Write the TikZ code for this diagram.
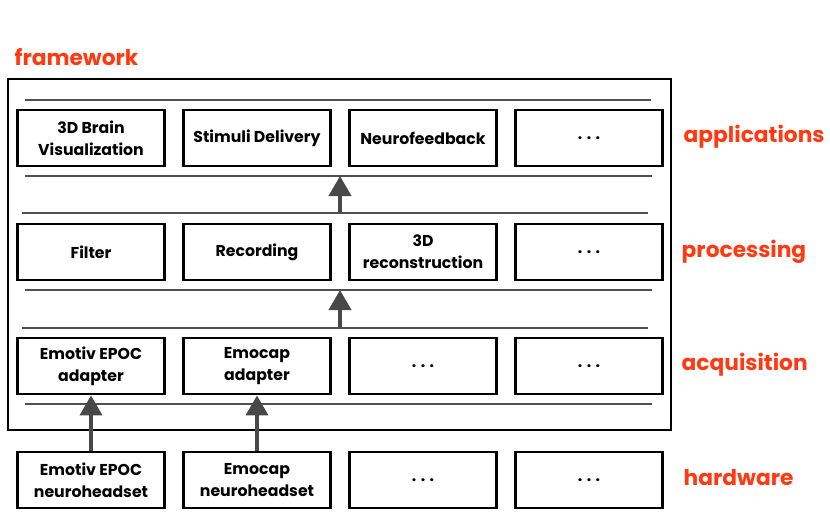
\documentclass[tikz,border=0pt]{standalone}
\usepackage{fontspec}
\setmainfont{Poppins}
\usepackage{tikz}
\usetikzlibrary{arrows.meta}
\definecolor{layerred}{HTML}{FF3A12}
\definecolor{bargray}{HTML}{505050}
\definecolor{arrowgray}{HTML}{484848}

\begin{document}
\begin{tikzpicture}[x=0.75pt, y=-0.75pt, node distance={124.5pt},
        box/.style = {draw, line width=2.2pt, minimum width=110pt, minimum height=42pt,
                      align=center, font=\fontsize{11.8}{16.5}\selectfont\bfseries, inner sep=1pt},
        layer/.style = {text=layerred, font=\fontsize{16.3}{18}\selectfont\bfseries, anchor=west},
        bar/.style = {draw=bargray, line width=2.2pt},
        up/.style = {draw=arrowgray, line width=3pt, -{Triangle[width=16.5pt, length=15pt]}}]
            \useasboundingbox (0,0) rectangle (830,519);

            \node[layer] (fw) at (10,57) {framework};
            \draw[line width=1pt] (8,79) rectangle (671,430);

            % applications
            \node[box] (app1) at (91,138) {3D Brain\\Visualization};
            \node[box] (app2) [right of=app1] {Stimuli Delivery};
            \node[box] (app3) [right of=app2] {Neurofeedback};
            \node[box] (app4) [right of=app3] {. . .};

            % processing
            \node[box] (proc1) at (91,252) {Filter};
            \node[box] (proc2) [right of=proc1] {Recording};
            \node[box] (proc3) [right of=proc2] {3D\\reconstruction};
            \node[box] (proc4) [right of=proc3] {. . .};

            % acquisition
            \node[box] (acq1) at (91,366) {Emotiv EPOC\\adapter};
            \node[box] (acq2) [right of=acq1] {Emocap\\adapter};
            \node[box] (acq3) [right of=acq2] {. . .};
            \node[box] (acq4) [right of=acq3] {. . .};

            % hardware
            \node[box] (hw1) at (91,480) {Emotiv EPOC\\neuroheadset};
            \node[box] (hw2) [right of=hw1] {Emocap\\neuroheadset};
            \node[box] (hw3) [right of=hw2] {. . .};
            \node[box] (hw4) [right of=hw3] {. . .};

            \node[layer] (lapp) at (679,137) {applications};
            \node[layer] (lproc) at (677,252) {processing};
            \node[layer] (lacq) at (677,365) {acquisition};
            \node[layer] (lhw) at (679,478) {hardware};

            % layer bars
            \draw[bar] (25,100) -- (651,100);
            \draw[bar] (25,176) -- (652,176);
            \draw[bar] (22,213) -- (648,213);
            \draw[bar] (25,290) -- (652,290);
            \draw[bar] (22,328) -- (648,328);
            \draw[bar] (25,404) -- (652,404);

            \coordinate (p2a) at (340,212);
            \coordinate (a2p) at (340,176);
            \coordinate (a2q) at (340,327);
            \coordinate (q2a) at (340,290);

            \path[up] (p2a) -- (a2p);
            \path[up] (a2q) -- (q2a);
            \path[up] (hw1) -- (acq1);
            \path[up] (hw2) -- (acq2);
        \end{tikzpicture}
\end{document}
